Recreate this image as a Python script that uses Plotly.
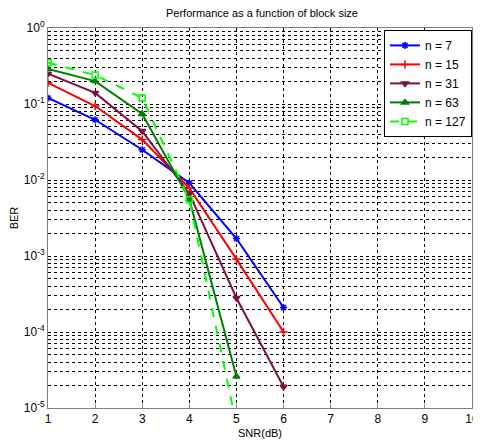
import plotly.graph_objects as go

snr = [1, 2, 3, 4, 5, 6]
ber_n7 = [0.12, 0.062, 0.025, 0.0091, 0.0017, 2.1e-4]
ber_n15 = [0.19, 0.094, 0.034, 0.0078, 9.1e-4, 1.0e-4]
ber_n31 = [0.25, 0.14, 0.044, 0.0066, 2.8e-4, 1.9e-5]
ber_n63 = [0.29, 0.20, 0.074, 0.0056, 2.6e-5]
ber_n127 = [0.35, 0.24, 0.12, 0.0055, 6e-6]
x_ticks = [1, 2, 3, 4, 5, 6, 7, 8, 9, 10]

names = ["n = 7", "n = 15", "n = 31", "n = 63", "n = 127"]
colors = ["#0000ff", "#ff0000", "#7f0f3f", "#007f00", "#00ff00"]
symbols = ["asterisk-open", "cross-thin-open", "triangle-down", "triangle-up", "square-open"]
dashes = ["solid", "solid", "solid", "solid", "dash"]
series = [ber_n7, ber_n15, ber_n31, ber_n63, ber_n127]

fig = go.Figure()
for name, ys, c, s, d in zip(names, series, colors, symbols, dashes):
    fig.add_trace(go.Scatter(
        x=snr[:len(ys)], y=ys, name=name, mode="lines+markers",
        line=dict(color=c, width=2, dash=d),
        marker=dict(symbol=s, size=6, color=c, line=dict(color=c, width=1.5)),
    ))

tickvals = []
ticktext = []
for k in range(-5, 1):
    for m in range(1, 10):
        v = m * 10 ** k
        if k == 0 and m > 1:
            break
        tickvals.append(v)
        ticktext.append(f"10<sup>{k}</sup>" if m == 1 else "")

font_fam = "Liberation Sans, Arial, sans-serif"
fig.update_layout(
    width=473, height=435,
    margin=dict(l=40, r=9, t=20, b=35),
    paper_bgcolor="#ffffff", plot_bgcolor="#ffffff",
    title=dict(text="Performance as a function of block size", x=0.537, xanchor="center",
               y=0.988, yanchor="middle", font=dict(family=font_fam, size=11, color="#000")),
    font=dict(family=font_fam, size=11, color="#000"),
    legend=dict(x=1.0, y=0.995, xanchor="right", yanchor="top",
                bgcolor="#ffffff", bordercolor="#000000", borderwidth=1,
                font=dict(family=font_fam, size=12), tracegroupgap=0, itemwidth=30),
    showlegend=True,
    annotations=[dict(text="SNR(dB)", xref="paper", yref="paper", x=0.5, y=-0.066,
                      xanchor="center", yanchor="middle", showarrow=False,
                      font=dict(family=font_fam, size=11, color="#000"))],
)
fig.update_xaxes(range=[1, 10], tickvals=x_ticks, showgrid=True, gridcolor="#000000",
                 griddash="3px,3px", gridwidth=1, showline=True, linecolor="#808080",
                 mirror=True, ticks="inside", ticklen=4, tickcolor="#808080",
                 automargin=False, tickfont=dict(size=12), ticklabeloverflow="allow",
                 zeroline=False)
fig.update_yaxes(type="log", range=[-5, 0], tickvals=tickvals, ticktext=ticktext,
                 showgrid=True, gridcolor="#000000", griddash="3px,3px", gridwidth=1,
                 showline=True, linecolor="#808080", mirror=True, ticks="",
                 automargin=False, tickfont=dict(size=12),
                 zeroline=False, title=dict(text="BER", standoff=7, font=dict(size=11)))

fig.write_html("out.html")
